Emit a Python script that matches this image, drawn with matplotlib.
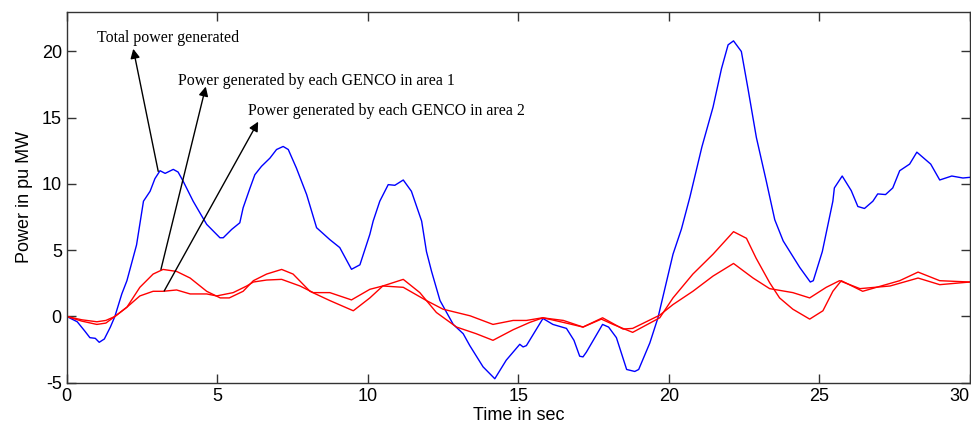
import numpy as np
import matplotlib
matplotlib.use('agg')
import matplotlib.pyplot as plt

# total power generated (blue)
t_total = [0, 0.35, 0.6, 0.77, 0.95, 1.08, 1.25, 1.45, 1.6, 1.83, 2.0, 2.32, 2.55, 2.77, 2.93,
           3.1, 3.27, 3.54, 3.7, 3.87, 4.2, 4.43, 4.65, 5.09, 5.2, 5.48, 5.75, 5.86, 6.09, 6.25,
           6.47, 6.75, 6.97, 7.19, 7.36, 7.63, 7.97, 8.3, 8.74, 9.07, 9.46, 9.74, 10.07, 10.18,
           10.4, 10.68, 10.9, 11.18, 11.45, 11.79, 11.95, 12.12, 12.4, 12.84, 13.17, 13.39, 13.83,
           14.22, 14.6, 15.05, 15.16, 15.27, 15.82, 16.15, 16.6, 16.85, 17.04, 17.15, 17.26, 17.8,
           18.0, 18.26, 18.6, 18.87, 19.0, 19.37, 19.64, 20.14, 20.42, 20.7, 21.1, 21.47, 21.75,
           21.97, 22.15, 22.41, 22.63, 22.91, 23.24, 23.52, 23.8, 24.35, 24.7, 24.8, 25.1, 25.45,
           25.5, 25.76, 26.06, 26.28, 26.5, 26.78, 26.94, 27.2, 27.44, 27.67, 28.0, 28.24, 28.7,
           29.0, 29.4, 29.77, 30]
p_total = [0, -0.4, -1.1, -1.6, -1.65, -1.95, -1.7, -0.8, 0.0, 1.7, 2.7, 5.4, 8.7, 9.45, 10.4,
           11.0, 10.8, 11.1, 10.9, 10.2, 8.7, 7.8, 6.95, 5.94, 5.94, 6.57, 7.07, 8.2, 9.7, 10.7,
           11.33, 11.95, 12.6, 12.83, 12.6, 11.2, 9.2, 6.7, 5.8, 5.2, 3.56, 3.9, 6.2, 7.2,
           8.7, 9.95, 9.9, 10.3, 9.45, 7.2, 4.9, 3.4, 1.2, -0.6, -1.3, -2.2, -3.8,
           -4.7, -3.3, -2.1, -2.3, -2.2, -0.15, -0.6, -0.9, -1.8, -3.0, -3.05, -2.7, -0.6,
           -0.8, -1.6, -4.0, -4.15, -4.0, -2.0, -0.1, 4.7, 6.6, 9.0, 12.8, 15.8, 18.7,
           20.5, 20.8, 20.0, 17.2, 13.5, 10.2, 7.3, 5.7, 3.7, 2.6, 2.7, 4.9, 8.7,
           9.7, 10.6, 9.5, 8.3, 8.15, 8.7, 9.25, 9.2, 9.7, 11.0, 11.5, 12.4, 11.5,
           10.3, 10.6, 10.45, 10.5]

# each GENCO in area 1 (red, larger swing)
t_area1 = [0, 0.5, 1.0, 1.3, 1.6, 2.0, 2.43, 2.87, 3.2, 3.65, 4.1, 4.65, 5.1, 5.4, 5.86, 6.2,
           6.64, 7.14, 7.52, 8.08, 8.74, 9.52, 10.07, 10.5, 11.18, 11.73, 12.28, 12.95, 13.6,
           14.16, 14.83, 15.38, 15.82, 16.5, 17.15, 17.76, 18.15, 18.8, 19.7, 20.14, 20.8, 21.47,
           22.15, 22.58, 22.9, 23.35, 23.68, 24.12, 24.68, 25.12, 25.45, 25.73, 26.44, 26.9,
           27.67, 28.28, 29.0, 30]
p_area1 = [0, -0.35, -0.6, -0.5, 0.0, 0.7, 2.2, 3.2, 3.55, 3.4, 2.9, 1.9, 1.4, 1.4, 1.9, 2.7,
           3.2, 3.55, 3.2, 1.9, 1.2, 0.43, 1.4, 2.3, 2.8, 1.8, 0.3, -0.8, -1.3,
           -1.8, -1.0, -0.45, -0.1, -0.45, -0.8, -0.2, -0.6, -1.2, -0.1, 1.4, 3.2, 4.7,
           6.4, 5.9, 4.4, 2.55, 1.4, 0.55, -0.2, 0.43, 1.9, 2.7, 1.9, 2.2,
           2.7, 3.35, 2.7, 2.6]

# each GENCO in area 2 (red, smaller swing)
t_area2 = [0, 0.5, 1.0, 1.3, 1.6, 2.0, 2.43, 2.87, 3.2, 3.65, 4.1, 4.65, 4.98, 5.53, 5.98, 6.2,
           6.64, 7.14, 7.75, 8.19, 8.74, 9.46, 10.07, 10.5, 11.18, 11.95, 12.5, 13.4, 14.16,
           14.83, 15.27, 15.8, 16.5, 17.15, 17.8, 18.48, 18.8, 19.7, 20.14, 20.8, 21.47, 22.15,
           22.8, 23.35, 24.12, 24.68, 25.23, 25.67, 26.35, 27.35, 28.28, 29.0, 30]
p_area2 = [0, -0.25, -0.4, -0.3, 0.0, 0.7, 1.55, 1.9, 1.9, 2.0, 1.7, 1.7, 1.55, 1.8, 2.3, 2.6,
           2.75, 2.8, 2.3, 1.8, 1.8, 1.25, 2.05, 2.3, 2.2, 1.2, 0.55, 0.05, -0.6,
           -0.3, -0.3, -0.1, -0.3, -0.8, -0.1, -0.95, -0.9, 0.1, 0.9, 1.9, 3.05, 4.0,
           2.9, 2.1, 1.8, 1.4, 2.2, 2.7, 2.1, 2.3, 2.9, 2.4, 2.6]

labels = ['Total power generated',
          'Power generated by each GENCO in area 1',
          'Power generated by each GENCO in area 2']
arrow_tail = [(3.04, 10.95), (3.13, 3.55), (3.24, 1.93)]
arrow_tip = [(2.21, 20.2), (4.62, 17.35), (6.36, 14.7)]
label_pos = [(1.0, 21.0), (3.7, 17.8), (6.03, 15.47)]

plt.rcParams['font.family'] = 'Liberation Sans'
plt.rcParams['axes.unicode_minus'] = False

fig = plt.figure(figsize=(9.71, 4.26), dpi=100)
ax = fig.add_axes([0.0687, 0.1016, 0.9301, 0.8709])

ax.plot(t_total, p_total, color='#0000ff', lw=1)
ax.plot(t_area1, p_area1, color='#ff0000', lw=1)
ax.plot(t_area2, p_area2, color='#ff0000', lw=1)

for lab, tail, tip, pos in zip(labels, arrow_tail, arrow_tip, label_pos):
    ax.annotate('', xy=tip, xytext=tail,
                arrowprops=dict(arrowstyle='-|>', color='black', lw=1, mutation_scale=14,
                                shrinkA=0, shrinkB=0))
    ax.text(pos[0], pos[1], lab, family='Liberation Serif', fontsize=11.4,
            ha='left', va='center', color='black')

ax.set_xlim(0, 30)
ax.set_ylim(-5, 23)
ax.set_xticks([0, 5, 10, 15, 20, 25, 30])
ax.set_yticks([-5, 0, 5, 10, 15, 20])
ax.tick_params(direction='in', top=True, right=True, length=6.5, width=1,
               labelsize=13, color='#333333')
ax.get_xticklabels()[-1].set_horizontalalignment('right')
for s in ax.spines.values():
    s.set_color('#333333')
    s.set_linewidth(1)
ax.set_xlabel('Time in sec', fontsize=13, labelpad=2)
ax.set_ylabel('Power in pu MW', fontsize=13, labelpad=6)

fig.savefig('out.png', dpi=100)
